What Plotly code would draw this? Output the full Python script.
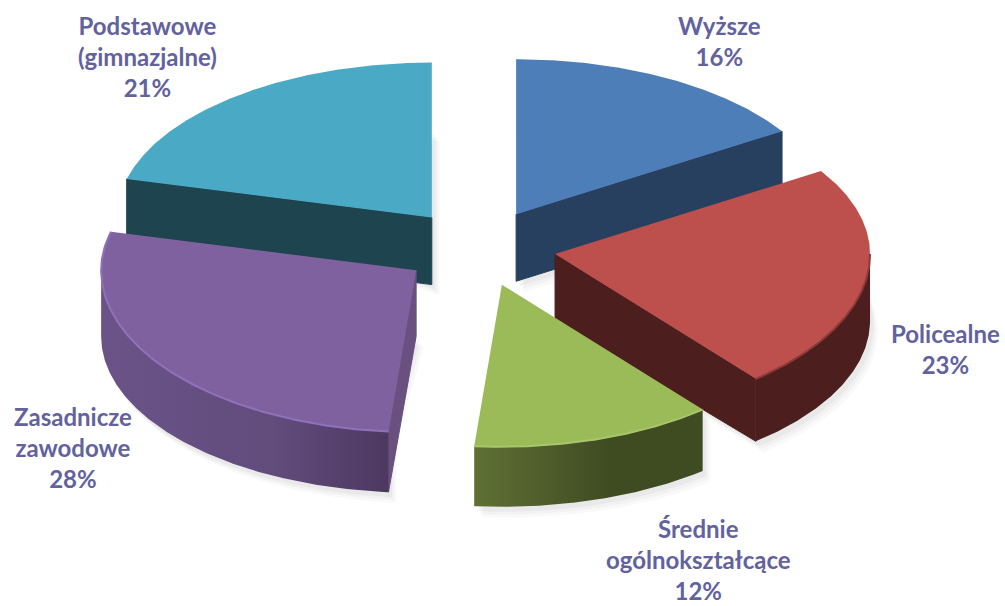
import numpy as np
import plotly.graph_objects as go

# data
categories = ["Wyższe", "Policealne", "Średnie<br>ogólnokształcące", "Zasadnicze<br>zawodowe", "Podstawowe<br>(gimnazjalne)"]
shares = [16.0, 23.0, 12.4, 27.6, 21.0]
shown_percent = [16, 23, 12, 28, 21]

# style
top_colors = ["#4d7eb8", "#bd4f4c", "#9bbb59", "#8061a0", "#4aa9c4"]
wall_colors = ["#27405f", "#4d1e1e", "#3e4a20", "#69507f", "#1e444f"]
arc_scales = [
    None,
    [[0, "#4d1e1e"], [1, "#4d1e1e"]],
    [[0, "#5f7035"], [0.6, "#3f4b21"], [1, "#3f4b21"]],
    [[0, "#6b5388"], [0.6, "#614c7c"], [1, "#4c3860"]],
    None,
]
rim_colors = [None, "#8d3a38", "#a8c76c", "#8f72bb", None]
text_color = "#62629e"
label_x = [719, 945, 698, 73, 147]
label_y = [41, 349, 559, 447, 56]
draw_order = [4, 0, 3, 1, 2]

# geometry of the exploded disc, in pixel-like axis units
CX, CY = 479, 248
RX = 315
RY_BACK, RY_FRONT = 155, 162
PULL = 77
DEPTH = 67


def arc(apex, a0, a1):
    t = np.radians(np.linspace(a0, a1, max(int(abs(a1 - a0)) * 2, 2)))
    c = np.cos(t)
    return apex[0] + RX * np.sin(t), apex[1] - np.where(c > 0, RY_BACK, RY_FRONT) * c


def depth(y):
    # perspective: the near part of the disc looks slightly thinner
    return DEPTH - 0.035 * np.maximum(np.asarray(y, dtype=float) - CY, 0)


edges = np.concatenate([[0], np.cumsum(shares)]) * 3.6
fig = go.Figure()


def poly(x, y, color=None, gradient=None, opacity=1.0, edge=False):
    kw = dict(fillgradient=gradient) if gradient else dict(fillcolor=color)
    line = dict(width=1, color=color) if edge else dict(width=0)
    fig.add_trace(go.Scatter(x=np.append(x, x[0]), y=np.append(y, y[0]), mode="lines", fill="toself",
                             line=line, opacity=opacity, hoverinfo="skip", showlegend=False, **kw))


apexes = []
for i in range(len(shares)):
    mid = np.radians((edges[i] + edges[i + 1]) / 2)
    apexes.append((CX + PULL * np.sin(mid), CY - PULL * 0.5 * np.cos(mid)))

# soft shadow
for off, alpha in [(11, 0.05), (8, 0.06), (5, 0.07)]:
    for i in draw_order:
        ax, ay = apexes[i]
        ux, uy = arc((ax + off * 0.7, ay + off), edges[i], edges[i + 1])
        poly(np.concatenate([[ux[0]], ux, [ux[-1]], [ax + off * 0.7]]),
             np.concatenate([[uy[0]], uy + depth(uy), [uy[-1] + depth(uy[-1])], [ay + off + depth(ay)]]),
             "#808080", opacity=alpha)

for i in draw_order:
    ax, ay = apexes[i]
    a0, a1 = edges[i], edges[i + 1]
    ux, uy = arc((ax, ay), a0, a1)
    # radial walls that face the viewer
    if np.sin(np.radians(a0)) < -1e-6:
        poly(np.array([ax, ux[0], ux[0], ax]), np.array([ay, uy[0], uy[0] + depth(uy[0]), ay + depth(ay)]), wall_colors[i], edge=True)
    if np.sin(np.radians(a1)) > 1e-6:
        poly(np.array([ax, ux[-1], ux[-1], ax]), np.array([ay, uy[-1], uy[-1] + depth(uy[-1]), ay + depth(ay)]), wall_colors[i], edge=True)
    # outer curved wall
    s0, s1 = max(a0, 90), min(a1, 270)
    if s1 > s0 and arc_scales[i]:
        wx, wy = arc((ax, ay), s0, s1)
        poly(np.concatenate([wx, wx[::-1]]), np.concatenate([wy, (wy + depth(wy))[::-1]]),
             gradient=dict(type="horizontal", colorscale=arc_scales[i]))
    # top face
    poly(np.concatenate([[ax], ux]), np.concatenate([[ay], uy]), top_colors[i])
    # rim highlight
    if rim_colors[i] and s1 > s0:
        wx, wy = arc((ax, ay), s0 if i != 3 else a0, a1 if i == 3 else s1)
        fig.add_trace(go.Scatter(x=wx, y=wy, mode="lines", line=dict(color=rim_colors[i], width=2),
                                 hoverinfo="skip", showlegend=False))

for name, pct, x, y in zip(categories, shown_percent, label_x, label_y):
    fig.add_annotation(x=x, y=y, text=f"{name}<br>{pct}%", showarrow=False, align="center",
                       font=dict(family="Lato", size=24, color=text_color, weight="bold"))

fig.update_layout(
    width=1005, height=606, margin=dict(l=0, r=0, t=0, b=0),
    paper_bgcolor="white", plot_bgcolor="white", showlegend=False,
    xaxis=dict(range=[0, 1005], visible=False, fixedrange=True),
    yaxis=dict(range=[606, 0], visible=False, fixedrange=True),
)
fig.write_html("out.html", config=dict(displayModeBar=False),
               post_script="document.body.style.margin='0';document.documentElement.style.overflow='hidden';")
